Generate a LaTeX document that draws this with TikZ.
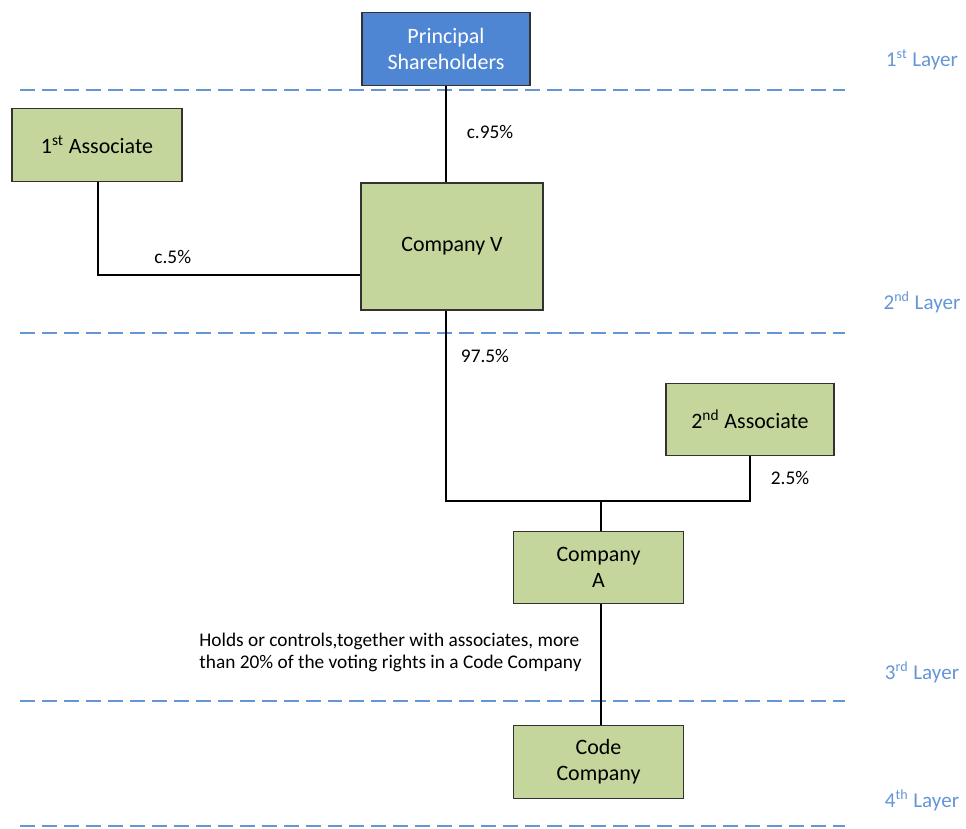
\documentclass[tikz,border=0pt]{standalone}
\usepackage{fontspec}
\setmainfont{Carlito}
\usetikzlibrary{positioning}

\definecolor{boxgreen}{RGB}{196,214,155}
\definecolor{boxblue}{RGB}{79,134,212}
\definecolor{layerblue}{RGB}{100,150,215}
\definecolor{rimgray}{RGB}{50,50,50}

\begin{document}
\begin{tikzpicture}[node distance=3cm,node font=\fontsize{12.5}{14.7}\selectfont,on grid]
	\tikzstyle{holder}=[draw=rimgray,line width=0.8pt,fill=boxgreen,minimum width=3.4cm,minimum height=1.45cm,align=center,inner sep=2pt]
	\tikzstyle{layerline}=[draw=layerblue,line width=1.3pt,dash pattern=on 8.5pt off 4pt]
	\tikzstyle{layertext}=[text=layerblue,font=\fontsize{12}{14}\selectfont]
	\tikzstyle{share}=[draw=black,line width=1.1pt]
	\tikzstyle{pct}=[font=\fontsize{11}{12.5}\selectfont]
	
	\useasboundingbox (0,0) rectangle (19.32,-16.56);
	
	\node[holder,fill=boxblue,text=white,minimum width=3.36cm] (PS) at (8.92,-0.98) {Principal\\Shareholders};
	\node[holder]  (A1) [below left=1.92cm and 6.98cm of PS]  {1\textsuperscript{st} Associate};
	\node[holder,minimum width=3.64cm,minimum height=2.54cm] (CV) [below right=3.95cm and 0.12cm of PS] {Company V};
	\node[holder,minimum width=3.36cm]  (A2) [below right=3.46cm and 5.96cm of CV]  {2\textsuperscript{nd} Associate};
	\node[holder]  (CA) at (11.97,-11.35)  {Company\\A};
	\node[holder]  (CC) [below=3.89cm of CA]  {Code\\Company};
	
	% layers
	\foreach \y/\ly/\n/\s in {-1.8/-1.2/1/st,-6.66/-6.04/2/nd,-14.02/-13.44/3/rd,-16.52/-16.0/4/th}{
		\draw[layerline] (0.4,\y) -- (16.9,\y);
		\node[layertext] (L\n) at (18.44,\ly) {\n\textsuperscript{\s} Layer};
	}
	
	% holdings
	\coordinate (J1) at (8.92,-10.02);
	\coordinate (J2) at (1.96,-5.5);
	\coordinate (J3) at (12.02,-10.02);
	\draw[share] (PS.south) -- node[pct,pos=0.48,xshift=0.88cm] (p95) {c.95\%} (PS.south |- CV.north);
	\draw[share] (A1.south -| J2) -- (J2) -- node[pct,pos=0.285,yshift=0.36cm] (p5) {c.5\%} (J2 -| CV.west);
	\draw[share] (PS.south |- CV.south) -- node[pct,pos=0.236,xshift=0.78cm] (p975) {97.5\%} (J1) -- (J1 -| A2.south) -- node[pct,pos=0.51,xshift=0.8cm] (p25) {2.5\%} (A2.south);
	\draw[share] (J3) -- (J3 |- CA.north);
	\draw[share] (J3 |- CA.south) -- (J3 |- CC.north);
	
	\node[pct,align=left] (note) at (7.81,-13.04) {Holds or controls,together with associates, more\\than 20\% of the voting rights in a Code Company};
\end{tikzpicture}
\end{document}
